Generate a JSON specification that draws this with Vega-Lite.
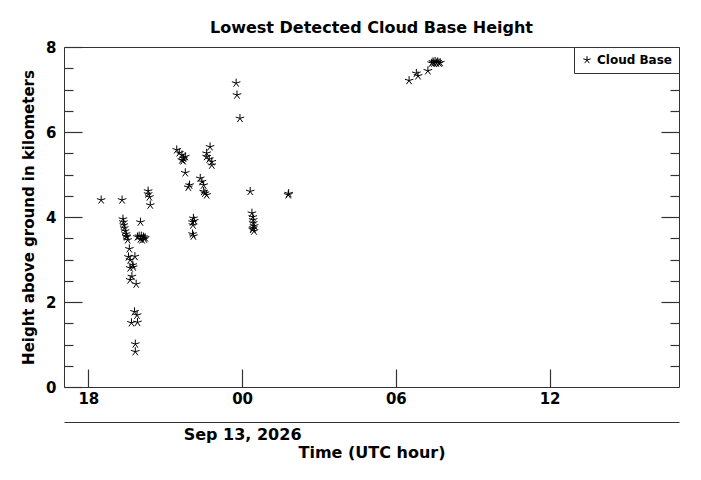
{
  "$schema": "https://vega.github.io/schema/vega-lite/v6.json",
  "autosize": {"type": "none"},
  "padding": {"left": 64, "top": 47, "right": 22, "bottom": 93},
  "width": 615,
  "height": 340,
  "background": "white",
  "title": {
    "text": "Lowest Detected Cloud Base Height",
    "font": "DejaVu Sans",
    "fontSize": 16,
    "fontWeight": "bold",
    "color": "black",
    "offset": 4
  },
  "datasets": {
    "cloud": [
      {"hour": 18.5, "height": 4.40},
      {"hour": 19.317, "height": 4.40},
      {"hour": 19.35, "height": 3.95},
      {"hour": 19.367, "height": 3.88},
      {"hour": 19.383, "height": 3.81},
      {"hour": 19.4, "height": 3.74},
      {"hour": 19.433, "height": 3.67},
      {"hour": 19.467, "height": 3.60},
      {"hour": 19.483, "height": 3.55},
      {"hour": 19.5, "height": 3.53},
      {"hour": 19.533, "height": 3.46},
      {"hour": 19.6, "height": 3.25},
      {"hour": 19.567, "height": 3.06},
      {"hour": 19.817, "height": 3.07},
      {"hour": 19.633, "height": 2.99},
      {"hour": 19.733, "height": 2.87},
      {"hour": 19.633, "height": 2.80},
      {"hour": 19.75, "height": 2.82},
      {"hour": 19.7, "height": 2.60},
      {"hour": 19.633, "height": 2.52},
      {"hour": 19.867, "height": 2.42},
      {"hour": 19.8, "height": 1.77},
      {"hour": 19.9, "height": 1.69},
      {"hour": 19.683, "height": 1.51},
      {"hour": 19.917, "height": 1.52},
      {"hour": 19.833, "height": 1.01},
      {"hour": 19.833, "height": 0.83},
      {"hour": 19.917, "height": 3.53},
      {"hour": 19.983, "height": 3.55},
      {"hour": 20.033, "height": 3.48},
      {"hour": 20.067, "height": 3.55},
      {"hour": 20.1, "height": 3.46},
      {"hour": 20.15, "height": 3.53},
      {"hour": 20.183, "height": 3.48},
      {"hour": 20.217, "height": 3.51},
      {"hour": 20.033, "height": 3.88},
      {"hour": 20.333, "height": 4.61},
      {"hour": 20.333, "height": 4.54},
      {"hour": 20.383, "height": 4.47},
      {"hour": 20.417, "height": 4.28},
      {"hour": 21.45, "height": 5.58},
      {"hour": 21.55, "height": 5.51},
      {"hour": 21.65, "height": 5.46},
      {"hour": 21.717, "height": 5.38},
      {"hour": 21.65, "height": 5.34},
      {"hour": 21.783, "height": 5.42},
      {"hour": 21.7, "height": 5.32},
      {"hour": 21.783, "height": 5.04},
      {"hour": 21.95, "height": 4.75},
      {"hour": 21.9, "height": 4.70},
      {"hour": 22.367, "height": 4.91},
      {"hour": 22.433, "height": 4.83},
      {"hour": 22.5, "height": 4.75},
      {"hour": 22.5, "height": 4.60},
      {"hour": 22.55, "height": 4.56},
      {"hour": 22.617, "height": 4.52},
      {"hour": 22.75, "height": 5.65},
      {"hour": 22.617, "height": 5.50},
      {"hour": 22.617, "height": 5.42},
      {"hour": 22.717, "height": 5.36},
      {"hour": 22.817, "height": 5.30},
      {"hour": 22.817, "height": 5.22},
      {"hour": 22.1, "height": 3.97},
      {"hour": 22.133, "height": 3.91},
      {"hour": 22.067, "height": 3.88},
      {"hour": 22.083, "height": 3.81},
      {"hour": 22.067, "height": 3.60},
      {"hour": 22.1, "height": 3.55},
      {"hour": 23.767, "height": 7.15},
      {"hour": 23.8, "height": 6.87},
      {"hour": 23.917, "height": 6.32},
      {"hour": 24.317, "height": 4.60},
      {"hour": 24.383, "height": 4.09},
      {"hour": 24.417, "height": 4.00},
      {"hour": 24.433, "height": 3.93},
      {"hour": 24.433, "height": 3.86},
      {"hour": 24.467, "height": 3.79},
      {"hour": 24.433, "height": 3.74},
      {"hour": 24.417, "height": 3.71},
      {"hour": 24.467, "height": 3.67},
      {"hour": 25.8, "height": 4.52},
      {"hour": 25.817, "height": 4.55},
      {"hour": 30.517, "height": 7.21},
      {"hour": 30.8, "height": 7.38},
      {"hour": 30.867, "height": 7.32},
      {"hour": 31.25, "height": 7.44},
      {"hour": 31.4, "height": 7.62},
      {"hour": 31.45, "height": 7.65},
      {"hour": 31.483, "height": 7.62},
      {"hour": 31.533, "height": 7.66},
      {"hour": 31.583, "height": 7.62},
      {"hour": 31.633, "height": 7.65},
      {"hour": 31.683, "height": 7.62},
      {"hour": 31.733, "height": 7.63}
    ],
    "majorHours": [
      {"hour": 18}, {"hour": 24}, {"hour": 30}, {"hour": 36}
    ],
    "minorHours": [
      {"hour": 20}, {"hour": 22}, {"hour": 26}, {"hour": 28},
      {"hour": 32}, {"hour": 34}, {"hour": 38}, {"hour": 40}
    ],
    "dateHours": [
      {"hour": 24}
    ]
  },
  "data": {"name": "cloud"},
  "encoding": {
    "x": {
      "field": "hour",
      "type": "quantitative",
      "scale": {"domain": [17.05, 41.05], "nice": false, "zero": false}
    },
    "y": {
      "field": "height",
      "type": "quantitative",
      "scale": {"domain": [0, 8], "nice": false, "zero": true}
    }
  },
  "layer": [
    {
      "data": {"name": "majorHours"},
      "mark": {"type": "rule", "color": "#333", "strokeWidth": 1.2},
      "encoding": {
        "x": {"field": "hour", "type": "quantitative", "axis": null},
        "y": {"datum": 0, "axis": null},
        "y2": {"datum": 0.4235}
      }
    },
    {
      "data": {"name": "majorHours"},
      "mark": {"type": "rule", "color": "#333", "strokeWidth": 1.2},
      "encoding": {
        "x": {"field": "hour", "type": "quantitative", "axis": null},
        "y": {"datum": 8, "axis": null},
        "y2": {"datum": 7.5765}
      }
    },
    {
      "data": {"name": "minorHours"},
      "mark": {"type": "rule", "color": "#333", "strokeWidth": 1.2},
      "encoding": {
        "x": {"field": "hour", "type": "quantitative", "axis": null},
        "y": {"datum": 0, "axis": null},
        "y2": {"datum": 0.2118}
      }
    },
    {
      "data": {"name": "minorHours"},
      "mark": {"type": "rule", "color": "#333", "strokeWidth": 1.2},
      "encoding": {
        "x": {"field": "hour", "type": "quantitative", "axis": null},
        "y": {"datum": 8, "axis": null},
        "y2": {"datum": 7.7882}
      }
    },
    {
      "data": {"name": "dateHours"},
      "mark": {"type": "rule", "color": "#333", "strokeWidth": 1.2},
      "encoding": {
        "x": {"field": "hour", "type": "quantitative", "axis": null},
        "y": {"datum": -0.8235, "axis": null},
        "y2": {"datum": -0.4235}
      }
    },
    {
      "mark": {"type": "point", "opacity": 0},
      "encoding": {
        "x": {"field": "hour", "type": "quantitative", "axis": null},
        "y": {
          "field": "height",
          "type": "quantitative",
          "axis": {
            "orient": "left",
            "offset": -9,
            "values": [0.5, 1, 1.5, 2.5, 3, 3.5, 4.5, 5, 5.5, 6.5, 7, 7.5],
            "tickSize": 9,
            "labels": false,
            "title": null,
            "domain": false,
            "grid": false
          }
        }
      }
    },
    {
      "mark": {"type": "point", "opacity": 0},
      "encoding": {
        "x": {"field": "hour", "type": "quantitative", "axis": null},
        "y": {
          "field": "height",
          "type": "quantitative",
          "axis": {
            "orient": "right",
            "offset": -9,
            "values": [0.5, 1, 1.5, 2.5, 3, 3.5, 4.5, 5, 5.5, 6.5, 7, 7.5],
            "tickSize": 9,
            "labels": false,
            "title": null,
            "domain": false,
            "grid": false
          }
        }
      }
    },
    {
      "mark": {"type": "point", "opacity": 0},
      "encoding": {
        "x": {"field": "hour", "type": "quantitative", "axis": null},
        "y": {
          "field": "height",
          "type": "quantitative",
          "axis": {
            "orient": "right",
            "offset": -18,
            "values": [2, 4, 6],
            "tickSize": 18,
            "labels": false,
            "title": null,
            "domain": false,
            "grid": false
          }
        }
      }
    },
    {
      "mark": {"type": "point", "opacity": 0},
      "encoding": {
        "x": {
          "field": "hour",
          "type": "quantitative",
          "axis": {
            "orient": "bottom",
            "offset": 35,
            "values": [24],
            "labelExpr": "'Sep 13, 2026'",
            "ticks": false,
            "labelPadding": 4,
            "labelFont": "DejaVu Sans",
            "labelFontSize": 16,
            "labelFontWeight": "bold",
            "labelColor": "black",
            "labelFlush": false,
            "labelOverlap": false,
            "title": "Time (UTC hour)",
            "titleFont": "DejaVu Sans",
            "titleFontSize": 16,
            "titleFontWeight": "bold",
            "titleColor": "black",
            "titlePadding": 2,
            "domain": true,
            "domainColor": "#333",
            "grid": false
          }
        },
        "y": {"field": "height", "type": "quantitative", "axis": null}
      }
    },
    {
      "mark": {
        "type": "point",
        "shape": "M0,0L0,-1M0,0L0.951,-0.309M0,0L0.588,0.809M0,0L-0.588,0.809M0,0L-0.951,-0.309",
        "filled": false,
        "size": 80,
        "strokeWidth": 1,
        "opacity": 1
      },
      "encoding": {
        "x": {
          "field": "hour",
          "type": "quantitative",
          "axis": {
            "orient": "bottom",
            "offset": -18,
            "values": [18, 24, 30, 36],
            "labelExpr": "(datum.value % 24 < 10 ? '0' : '') + (datum.value % 24)",
            "tickSize": 18,
            "labelPadding": 4,
            "labelFont": "DejaVu Sans",
            "labelFontSize": 15,
            "labelFontWeight": "bold",
            "labelColor": "black",
            "labelFlush": false,
            "title": null,
            "domain": false,
            "grid": false
          }
        },
        "y": {
          "field": "height",
          "type": "quantitative",
          "axis": {
            "orient": "left",
            "offset": -18,
            "values": [0, 2, 4, 6, 8],
            "tickSize": 18,
            "labelPadding": 8,
            "labelFont": "DejaVu Sans",
            "labelFontSize": 15,
            "labelFontWeight": "bold",
            "labelColor": "black",
            "labelFlush": false,
            "title": "Height above ground in kilometers",
            "titleFont": "DejaVu Sans",
            "titleFontSize": 15,
            "titleFontWeight": "bold",
            "titleColor": "black",
            "titlePadding": 9,
            "domain": false,
            "grid": false
          }
        },
        "color": {
          "datum": "Cloud Base",
          "scale": {"range": ["black"]},
          "legend": {
            "title": null,
            "orient": "top-right",
            "offset": 0,
            "strokeColor": "#333",
            "fillColor": "white",
            "padding": 7,
            "symbolType": "M0,0L0,-1M0,0L0.951,-0.309M0,0L0.588,0.809M0,0L-0.588,0.809M0,0L-0.951,-0.309",
            "symbolSize": 60,
            "symbolStrokeWidth": 1,
            "labelFont": "DejaVu Sans",
            "labelFontSize": 12,
            "labelFontWeight": "bold",
            "labelColor": "black"
          }
        }
      }
    }
  ],
  "resolve": {"axis": {"x": "independent", "y": "independent"}},
  "config": {
    "view": {"stroke": "#333", "strokeWidth": 1},
    "axis": {"ticks": true, "tickColor": "#333", "tickWidth": 1.2}
  }
}
